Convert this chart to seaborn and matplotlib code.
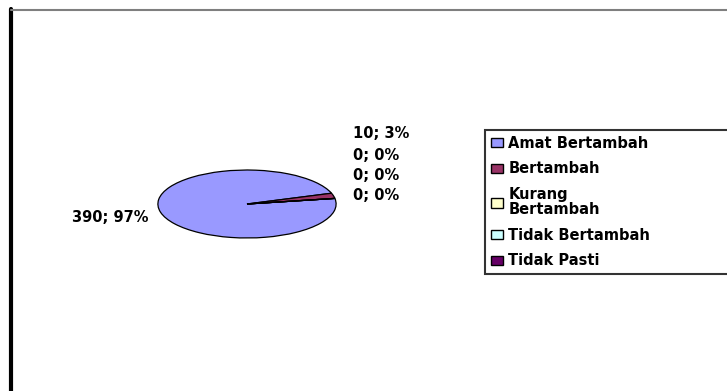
import matplotlib
matplotlib.use("Agg")
import matplotlib.pyplot as plt
import seaborn as sns
from matplotlib.lines import Line2D

# ---- data ----
categories = ["Amat Bertambah", "Bertambah", "Kurang Bertambah", "Tidak Bertambah", "Tidak Pasti"]
legend_labels = ["Amat Bertambah", "Bertambah", "Kurang\nBertambah", "Tidak Bertambah", "Tidak Pasti"]
values = [390, 10, 0, 0, 0]
percents = [97, 3, 0, 0, 0]
colors = ["#9999FF", "#993366", "#FFFFCC", "#CCFFFF", "#660066"]

sns.set_theme(style="white")
plt.rcParams["font.family"] = ["DejaVu Sans"]
plt.rcParams["text.color"] = "black"

W, H = 727, 391
fig = plt.figure(figsize=(W / 100, H / 100), dpi=100)
fig.patch.set_facecolor("white")


def fx(px):
    return px / W


def fy(py):
    return 1 - py / H


# chart area border (left black, top grey), running off the image
fig.add_artist(Line2D([fx(11), fx(11)], [fy(9), -0.1], color="black", lw=3))
fig.add_artist(Line2D([fx(11), 1.2], [fy(9.5), fy(9.5)], color="#7f7f7f", lw=1.5))

# pie (flattened ellipse)
ax = fig.add_axes([fx(157), fy(239), fx(337) - fx(157), (239 - 169) / H])
wedges, _ = ax.pie(values, colors=colors, startangle=9.5, counterclock=False,
                   wedgeprops=dict(edgecolor="black", linewidth=0.9))
ax.set_aspect("auto")
ax.set_xlim(-1.01, 1.01)
ax.set_ylim(-1.03, 1.03)
ax.axis("off")

# data labels
FS = 10.5
label_texts = [f"{v}; {p}%" for v, p in zip(values, percents)]
fig.text(fx(148), fy(217), label_texts[0], ha="right", va="center",
         fontsize=FS, fontweight="bold", color="black")
label_rows = [134, 155, 175, 196]
for t, yy in zip(label_texts[1:], label_rows):
    fig.text(fx(353), fy(yy), t, ha="left", va="center",
             fontsize=FS, fontweight="bold", color="black")

# legend
leg = fig.legend(wedges, legend_labels, loc="upper left",
                 bbox_to_anchor=(fx(485), fy(277), fx(780) - fx(485), (277 - 130) / H),
                 mode="expand", frameon=True, fancybox=False, shadow=False,
                 prop=dict(size=FS, weight="bold"), handlelength=0.85, handleheight=0.6,
                 handletextpad=0.35, labelspacing=0.72, borderpad=0.4, borderaxespad=0)
leg.get_frame().set_edgecolor("black")
leg.get_frame().set_linewidth(1.5)
for t in leg.get_texts():
    t.set_color("black")
    t.set_linespacing(1.05)
for h in leg.legend_handles:
    h.set_edgecolor("black")
    h.set_linewidth(1.0)

fig.savefig("out.png", dpi=100)
